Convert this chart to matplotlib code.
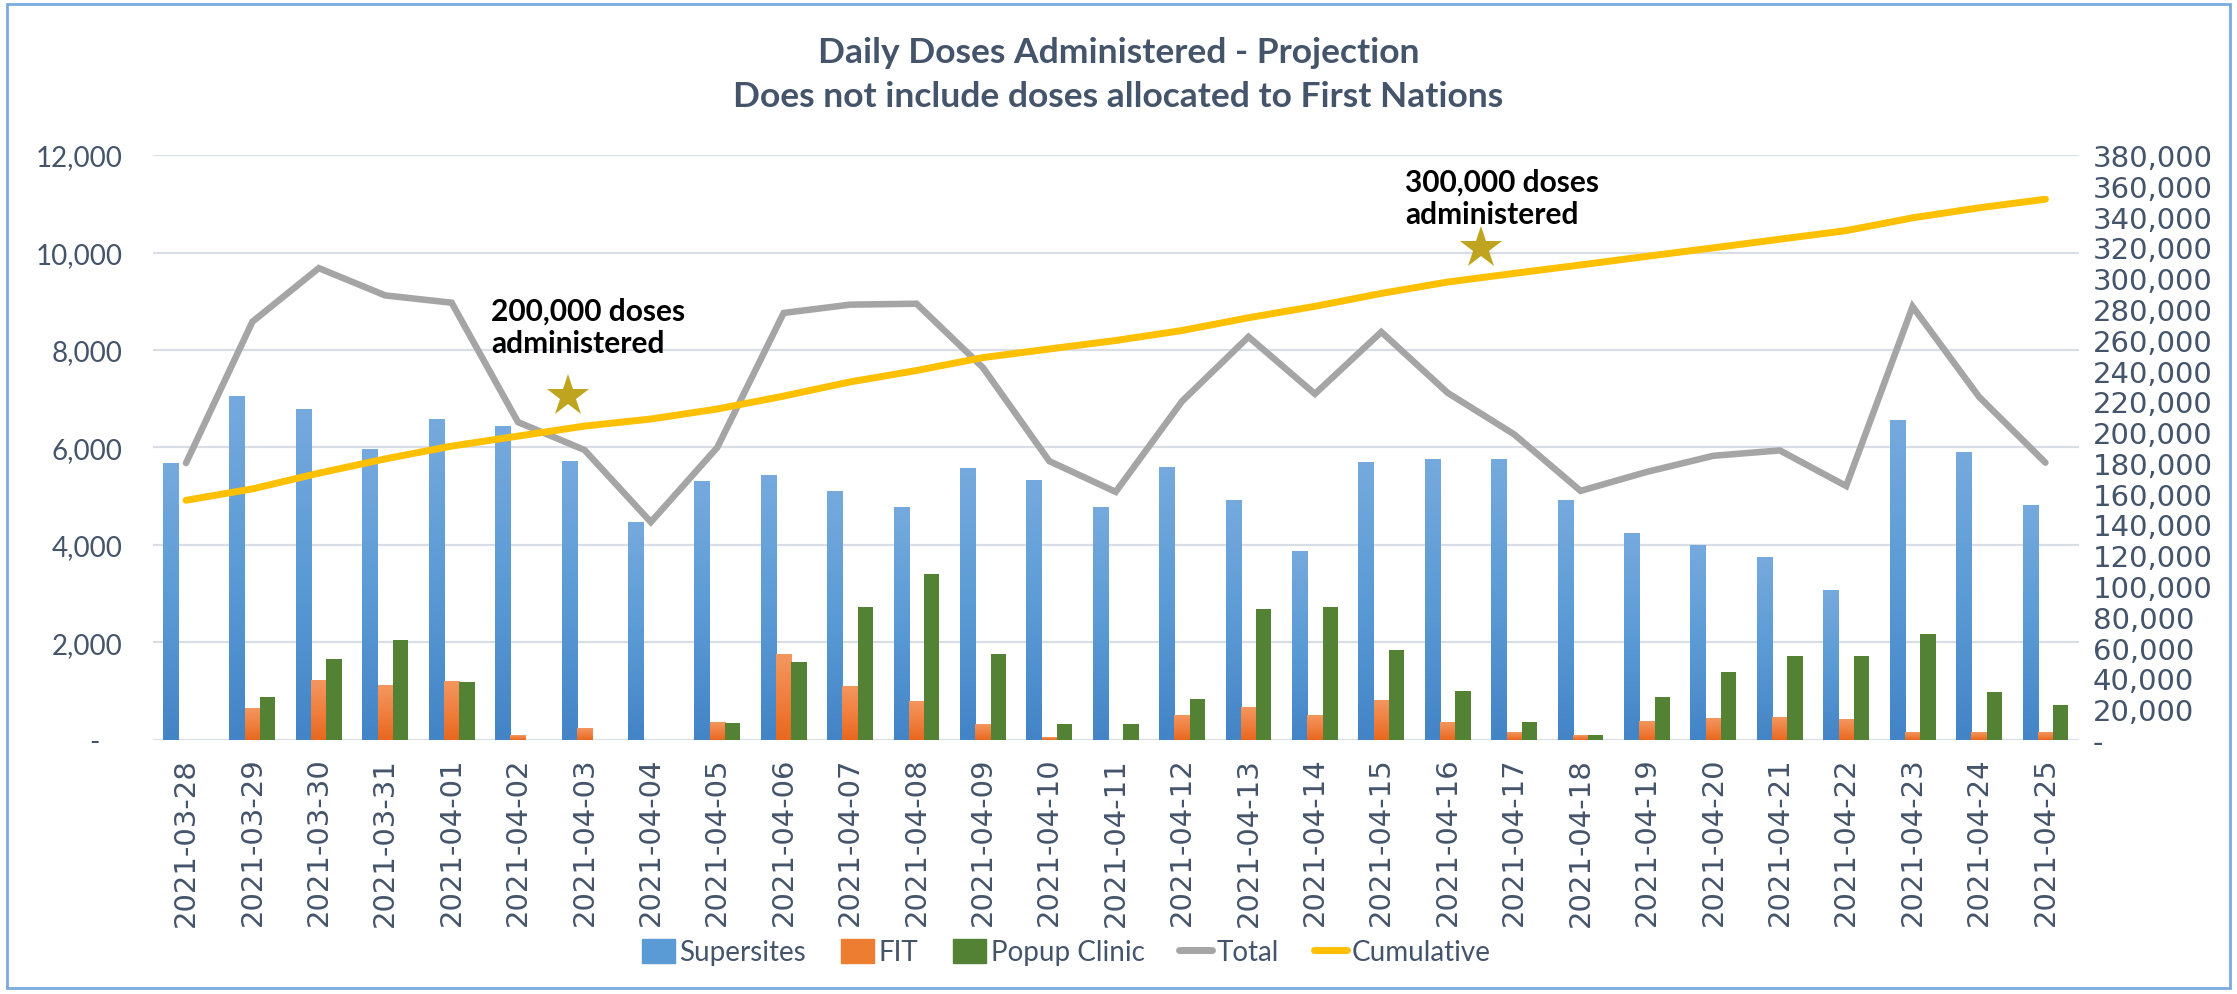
import numpy as np
import matplotlib
matplotlib.use('Agg')
import matplotlib.pyplot as plt
from matplotlib.colors import LinearSegmentedColormap
from matplotlib.patches import Patch, Rectangle
from matplotlib.lines import Line2D

# Data
dates = ['2021-03-28', '2021-03-29', '2021-03-30', '2021-03-31', '2021-04-01',
         '2021-04-02', '2021-04-03', '2021-04-04', '2021-04-05', '2021-04-06',
         '2021-04-07', '2021-04-08', '2021-04-09', '2021-04-10', '2021-04-11',
         '2021-04-12', '2021-04-13', '2021-04-14', '2021-04-15', '2021-04-16',
         '2021-04-17', '2021-04-18', '2021-04-19', '2021-04-20', '2021-04-21',
         '2021-04-22', '2021-04-23', '2021-04-24', '2021-04-25']
supersites = [5680, 7050, 6780, 5950, 6580, 6430, 5720, 4470, 5300, 5420,
              5100, 4770, 5560, 5330, 4760, 5600, 4920, 3860, 5700, 5760,
              5760, 4920, 4240, 3980, 3750, 3070, 6560, 5900, 4820]
fit = [0, 650, 1230, 1120, 1200, 90, 230, 0, 360, 1750,
       1100, 780, 320, 60, 0, 500, 670, 510, 820, 360,
       150, 90, 380, 450, 460, 420, 160, 160, 160]
popup = [0, 880, 1670, 2050, 1190, 0, 0, 0, 340, 1590,
         2730, 3400, 1760, 330, 330, 850, 2680, 2730, 1850, 1000,
         360, 100, 880, 1400, 1730, 1720, 2170, 980, 710]
cumulative = [155700, 163100, 173300, 182600, 190900, 197400, 203900, 208500,
              215000, 223400, 232600, 240000, 248400, 254000, 259500, 266000,
              274300, 281700, 290100, 297500, 303100, 308600, 314200, 319700,
              325300, 330900, 339200, 345700, 351300]
total = np.array(supersites) + np.array(fit) + np.array(popup)

# milestone stars (category position, left-axis height) and their notes
milestone_x = [5.75, 19.5]
milestone_y = [7057, 10100]
milestone_text = ['200,000 doses\nadministered', '300,000 doses\nadministered']
note_x = [4.59, 18.36]
note_y = [8480, 11130]

title = 'Daily Doses Administered - Projection\nDoes not include doses allocated to First Nations'

slate = '#44546A'
grid_c = '#D9DEE6'
main_font = 'Lato'
num_font = 'DejaVu Sans'

fig = plt.figure(figsize=(22.37, 9.95), dpi=100)
ax = fig.add_axes([0.0683, 0.2553, 0.8609, 0.5879])

x = np.arange(len(dates))
w = 0.23

blue_cmap = LinearSegmentedColormap.from_list('blue', ['#4384C7', '#5B9BD5', '#76AADE'])
orange_cmap = LinearSegmentedColormap.from_list('orange', ['#E8681E', '#F08040', '#F3975F'])
grad = np.linspace(0, 1, 256).reshape(-1, 1)

def gradient_bars(xs, heights, cmap):
    for xi, h in zip(xs, heights):
        if h <= 0:
            continue
        ax.imshow(grad, cmap=cmap, origin='lower', aspect='auto',
                  extent=(xi - w / 2, xi + w / 2, 0, h), zorder=2,
                  interpolation='bilinear')

gradient_bars(x - w, supersites, blue_cmap)
gradient_bars(x, fit, orange_cmap)
ax.bar(x + w, popup, width=w, color='#548235', zorder=2)

ax.plot(x, total, color='#A5A5A5', lw=4.7, solid_capstyle='round',
        solid_joinstyle='miter', zorder=3)

ax.set_xlim(-0.5, len(dates) - 0.5)
ax.set_ylim(0, 12000)
left_ticks = list(range(0, 12001, 2000))
ax.set_yticks(left_ticks)
ax.set_yticklabels(['-   '] + [f'{v:,}' for v in left_ticks[1:]],
                   fontfamily=main_font, fontsize=20, color=slate)
ax.set_xticks(x)
ax.set_xticklabels(dates, rotation=90, fontfamily=num_font, fontsize=21, color=slate)
ax.tick_params(axis='y', length=0, pad=22)
ax.tick_params(axis='x', length=0, pad=12)
ax.grid(axis='y', color=grid_c, lw=1.6)
ax.set_axisbelow(True)
for s in ax.spines.values():
    s.set_visible(False)

ax2 = ax.twinx()
ax2.plot(x, cumulative, color='#FFC000', lw=5, solid_capstyle='round', zorder=4)
ax2.set_ylim(0, 380000)
right_ticks = list(range(0, 380001, 20000))
ax2.set_yticks(right_ticks)
ax2.set_yticklabels(['-'] + [f'{v:,}' for v in right_ticks[1:]],
                    fontfamily=num_font, fontsize=21, color=slate)
ax2.tick_params(axis='y', length=0, pad=10)
for s in ax2.spines.values():
    s.set_visible(False)

# stars and notes
ax.plot(milestone_x, milestone_y, linestyle='none', marker='*', markersize=32,
        color='#BFA51F', markeredgewidth=0, zorder=5)
for tx, ty, t in zip(note_x, note_y, milestone_text):
    ax.text(tx, ty, t, ha='left', va='center', fontfamily=main_font,
            fontweight='bold', fontsize=21.5, color='black', linespacing=1.2, zorder=6)

fig.text(0.5, 1 - 75 / 995, title, ha='center', va='center', fontfamily=main_font,
         fontweight='bold', fontsize=25.5, color=slate, linespacing=1.43)

handles = [Patch(color='#5B9BD5'), Patch(color='#ED7D31'), Patch(color='#548235'),
           Line2D([], [], color='#A5A5A5', lw=5, solid_capstyle='round'),
           Line2D([], [], color='#FFC000', lw=5, solid_capstyle='round')]
labels = ['Supersites', 'FIT', 'Popup Clinic', 'Total', 'Cumulative']
fig.legend(handles, labels, loc='center', bbox_to_anchor=(0.4766, 1 - 953 / 995),
           ncol=5, frameon=False, prop={'family': main_font, 'size': 20},
           labelcolor=slate, handlelength=1.2, handleheight=1.0,
           handletextpad=0.15, columnspacing=1.25)

fig.patches.append(Rectangle((0.003, 0.006), 0.994, 0.989, transform=fig.transFigure,
                             fill=False, ec='#7AAAE0', lw=2))

fig.savefig('out.png', dpi=100)
